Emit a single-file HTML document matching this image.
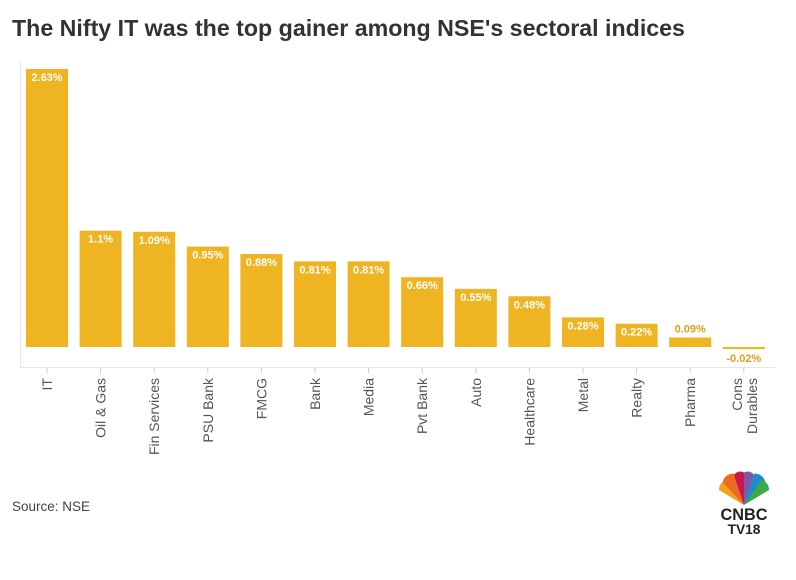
<!DOCTYPE html>
<html><head><meta charset="utf-8"><style>
body{margin:0;background:#fff;width:796px;height:575px;overflow:hidden;font-family:"Liberation Sans",sans-serif}
</style></head><body>
<svg width="796" height="575" xmlns="http://www.w3.org/2000/svg" font-family="Liberation Sans, sans-serif">
<text x="12" y="36" font-size="23.2" font-weight="bold" fill="#333">The Nifty IT was the top gainer among NSE's sectoral indices</text>
<line x1="20.5" y1="60" x2="20.5" y2="367" stroke="#e6e6e6"/>
<line x1="20" y1="367.5" x2="775" y2="367.5" stroke="#e6e6e6"/>
<g id="bars"></g>
<text x="12" y="511" font-size="13.5" fill="#444">Source: NSE</text>
<g transform="translate(744,505) scale(1.25)">
<path d="M0,0 L-20,-12 A8,8 0 0,1 -14,-20 Z" fill="#f6a01a"/>
<path d="M0,0 L-17,-18 A8,8 0 0,1 -8,-25 Z" fill="#ec6b24"/>
<path d="M0,0 L-8,-24 A6,6 0 0,1 0,-26 Z" fill="#c8174b"/>
<path d="M0,0 L0,-26 A6,6 0 0,1 8,-24 Z" fill="#7a5aa6"/>
<path d="M0,0 L8,-25 A8,8 0 0,1 17,-18 Z" fill="#1f8ad0"/>
<path d="M0,0 L14,-20 A8,8 0 0,1 20,-12 Z" fill="#3bab48"/>
<text x="0" y="12" font-size="13" font-weight="bold" text-anchor="middle" fill="#222">CNBC</text>
<text x="0" y="23" font-size="11" font-weight="bold" text-anchor="middle" fill="#222">TV18</text>
</g>
</svg>
<script>
const d=[["IT",2.63],["Oil & Gas",1.1],["Fin Services",1.09],["PSU Bank",0.95],["FMCG",0.88],["Bank",0.81],["Media",0.81],["Pvt Bank",0.66],["Auto",0.55],["Healthcare",0.48],["Metal",0.28],["Realty",0.22],["Pharma",0.09],["Cons|Durables",-0.02]];
const g=document.getElementById('bars');let h='';const base=347,k=105.7;
d.forEach((e,i)=>{const x=26+i*53.6,w=42,cx=x+w/2,v=e[1];
let top=v>=0?base-v*k:base, hh=Math.max(Math.abs(v)*k,2);
h+=`<rect x="${x}" y="${top}" width="${w}" height="${hh}" fill="#efb421"/>`;
const L=v===2.63?'2.63%':v===1.1?'1.1%':v.toFixed(2)+'%';
if(v>0.15)h+=`<text x="${cx}" y="${top+12}" font-size="11" font-weight="bold" fill="#fff" text-anchor="middle">${L}</text>`;
else if(v>0)h+=`<text x="${cx}" y="${top-5}" font-size="11" font-weight="bold" fill="#d9a21c" text-anchor="middle">${L}</text>`;
else h+=`<text x="${cx}" y="${base+15}" font-size="11" font-weight="bold" fill="#d9a21c" text-anchor="middle">${L}</text>`;
h+=`<line x1="${cx}" y1="368" x2="${cx}" y2="373" stroke="#ccc"/>`;
const parts=e[0].split('|');
if(parts.length==1)h+=`<text transform="translate(${cx+5},378) rotate(-90)" font-size="14" fill="#555" text-anchor="end">${parts[0]}</text>`;
else{h+=`<text transform="translate(${cx-2},378) rotate(-90)" font-size="14" fill="#555" text-anchor="end">${parts[0]}</text>`;
h+=`<text transform="translate(${cx+13},378) rotate(-90)" font-size="14" fill="#555" text-anchor="end">${parts[1]}</text>`;}
});g.innerHTML=h;
</script>
</body></html>
